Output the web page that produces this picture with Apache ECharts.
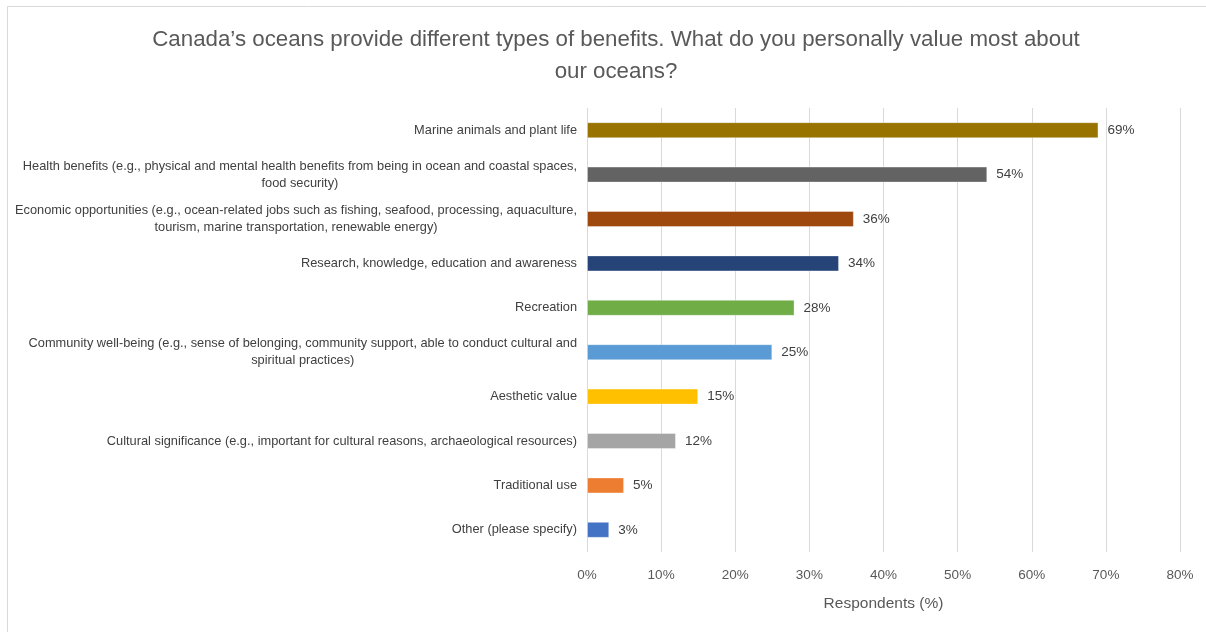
<!DOCTYPE html>
<html>
<head>
<meta charset="utf-8">
<script src="https://cdn.jsdelivr.net/npm/echarts@6/dist/echarts.min.js"></script>
<style>
  html, body { margin: 0; padding: 0; background: #ffffff; }
  #chart { width: 1206px; height: 632px; }
</style>
</head>
<body>
<div id="chart"></div>
<script>
// Survey responses, listed top to bottom
const categories = [
  'Marine animals and plant life',
  'Health benefits (e.g., physical and mental health benefits from being in ocean and coastal spaces,\nfood security)',
  'Economic opportunities (e.g., ocean-related jobs such as fishing, seafood, processing, aquaculture,\ntourism, marine transportation, renewable energy)',
  'Research, knowledge, education and awareness',
  'Recreation',
  'Community well-being (e.g., sense of belonging, community support, able to conduct cultural and\nspiritual practices)',
  'Aesthetic value',
  'Cultural significance (e.g., important for cultural reasons, archaeological resources)',
  'Traditional use',
  'Other (please specify)'
];
const values = [69, 54, 36, 34, 28, 25, 15, 12, 5, 3];
const barColors = ['#997300', '#636363', '#9E480E', '#264478', '#70AD47',
                   '#5B9BD5', '#FFC000', '#A5A5A5', '#ED7D31', '#4472C4'];
const xTicks = [0, 10, 20, 30, 40, 50, 60, 70, 80];

const FONT = '"Liberation Sans", "Open Sans", sans-serif';

const chart = echarts.init(document.getElementById('chart'), null, { renderer: 'canvas' });

// Category axis runs bottom-up in ECharts, so feed it reversed
const catRev = categories.slice().reverse();
const dataRev = values.map((v, i) => ({
  value: v,
  itemStyle: { color: barColors[i] }
})).reverse();

chart.setOption({
  backgroundColor: '#ffffff',
  animation: false,
  title: {
    text: 'Canada\u2019s oceans provide different types of benefits. What do you personally value most about\nour oceans?',
    left: 611,
    top: 19,
    textAlign: 'center',
    textStyle: {
      fontFamily: FONT,
      fontSize: 22.3,
      fontWeight: 'normal',
      color: '#595959',
      lineHeight: 32
    }
  },
  graphic: [{
    type: 'rect',
    shape: { x: 7.5, y: 6.5, width: 1210, height: 640 },
    style: { fill: 'none', stroke: '#d9d9d9', lineWidth: 1 },
    silent: true,
    z: -1
  }],
  grid: {
    left: 587,
    right: 26,
    top: 108,
    bottom: 80,
    containLabel: false
  },
  xAxis: {
    type: 'value',
    min: xTicks[0],
    max: xTicks[xTicks.length - 1],
    interval: 10,
    name: 'Respondents (%)',
    nameLocation: 'middle',
    nameGap: 44,
    nameTextStyle: { fontFamily: FONT, fontSize: 15.5, color: '#595959' },
    axisLine: { show: false },
    axisTick: { show: false },
    axisLabel: {
      formatter: '{value}%',
      fontFamily: FONT,
      fontSize: 13.5,
      color: '#595959',
      margin: 16
    },
    splitLine: { show: true, lineStyle: { color: '#d9d9d9', width: 1 } }
  },
  yAxis: {
    type: 'category',
    data: catRev,
    axisLine: { show: false },
    axisTick: { show: false },
    axisLabel: {
      margin: 10,
      fontFamily: FONT,
      fontSize: 12.8,
      color: '#404040',
      lineHeight: 17,
      formatter: function (s) {
        return s.split('\n').map(l => '{c|' + l + '}').join('\n');
      },
      rich: {
        c: { align: 'center', fontFamily: FONT, fontSize: 12.8, color: '#404040', lineHeight: 17 }
      }
    },
    splitLine: { show: false }
  },
  series: [{
    type: 'bar',
    data: dataRev,
    barWidth: 16,
    itemStyle: { borderColor: 'rgba(255,255,255,0.35)', borderWidth: 1 },
    label: {
      show: true,
      position: 'right',
      distance: 9,
      formatter: '{c}%',
      fontFamily: FONT,
      fontSize: 13.5,
      color: '#404040'
    }
  }]
});
</script>
</body>
</html>
